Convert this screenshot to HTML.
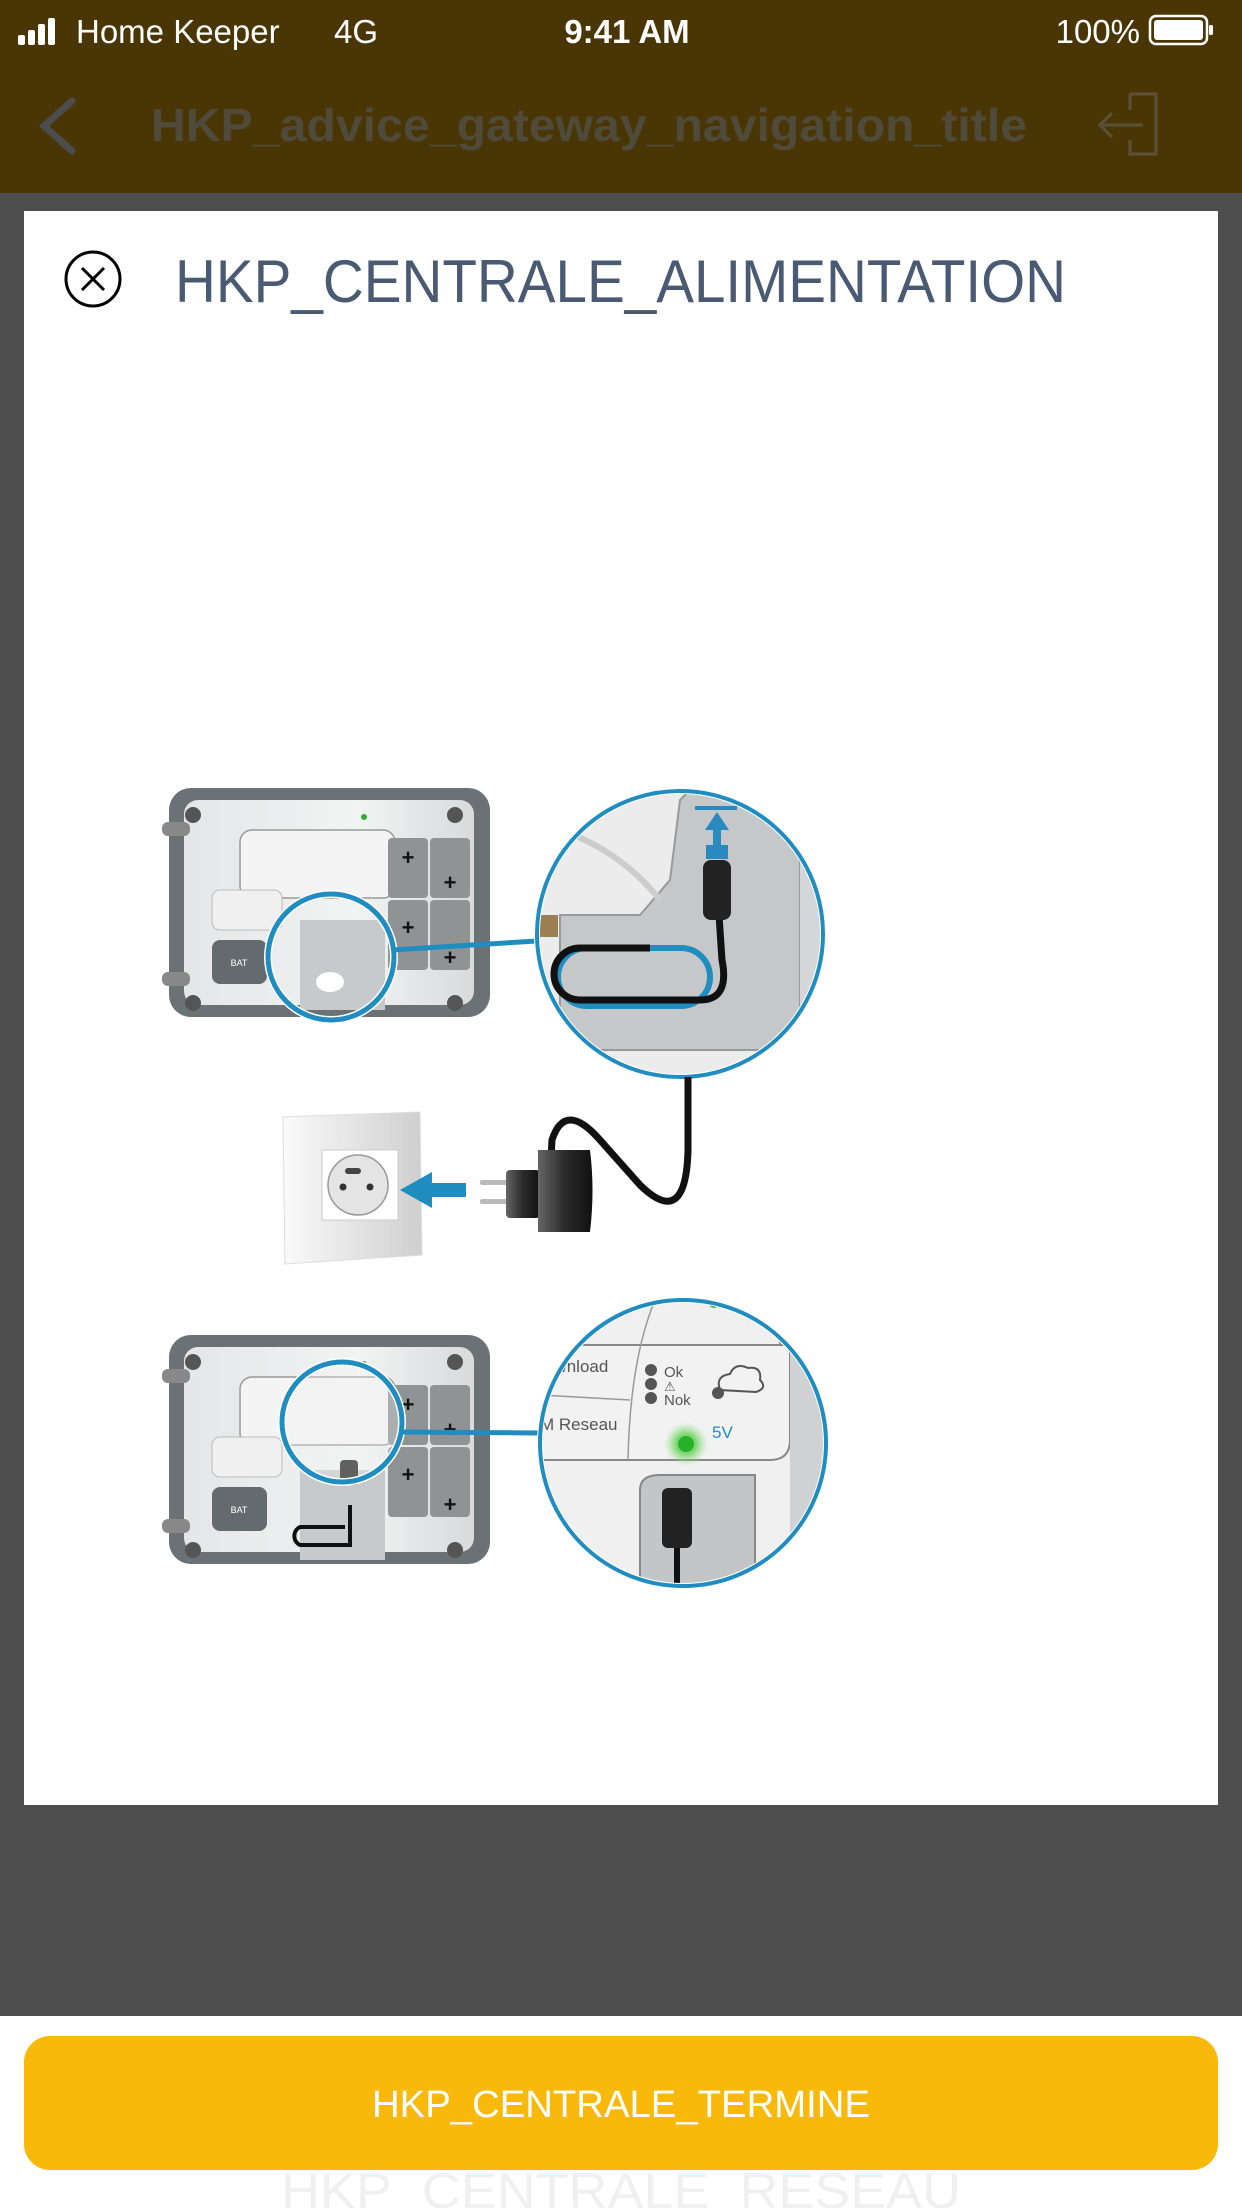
<!DOCTYPE html>
<html><head><meta charset="utf-8"><style>
html,body{margin:0;padding:0;width:1242px;height:2208px;overflow:hidden;background:#fff}
svg{display:block}
</style></head><body>
<svg width="1242" height="2208" viewBox="0 0 1242 2208" xmlns="http://www.w3.org/2000/svg" font-family="Liberation Sans, sans-serif">
<defs>
<linearGradient id="dev" x1="0" x2="1"><stop offset="0" stop-color="#e4e6e7"/><stop offset="0.6" stop-color="#f2f3f3"/><stop offset="1" stop-color="#d8dadb"/></linearGradient>
<linearGradient id="plate" x1="0" x2="1"><stop offset="0" stop-color="#fafafa"/><stop offset="1" stop-color="#cfcfcf"/></linearGradient>
<linearGradient id="chg" x1="0" x2="1"><stop offset="0" stop-color="#666"/><stop offset="0.5" stop-color="#2a2a2a"/><stop offset="1" stop-color="#111"/></linearGradient>
<radialGradient id="glow"><stop offset="0" stop-color="#2fb52f"/><stop offset="0.5" stop-color="#5fcf4f" stop-opacity="0.7"/><stop offset="1" stop-color="#9fe08f" stop-opacity="0"/></radialGradient>
<clipPath id="c1"><circle cx="680" cy="934" r="143"/></clipPath>
<clipPath id="c2"><circle cx="683" cy="1443" r="143"/></clipPath>
</defs>
<!-- top bars -->
<rect x="0" y="0" width="1242" height="193" fill="#4a3604"/>
<g fill="#fff">
<rect x="18" y="35" width="7" height="10" rx="2"/><rect x="28" y="30" width="7" height="15" rx="2"/><rect x="38" y="24" width="7" height="21" rx="2"/><rect x="48" y="18" width="7" height="27" rx="2"/>
</g>
<text x="76" y="43" font-size="33" fill="#fff">Home Keeper</text>
<text x="334" y="43" font-size="33" fill="#fff">4G</text>
<text x="627" y="43" font-size="33" fill="#fff" font-weight="bold" text-anchor="middle">9:41 AM</text>
<text x="1140" y="43" font-size="33" fill="#fff" text-anchor="end">100%</text>
<rect x="1150" y="16" width="57" height="28" rx="6" fill="none" stroke="#fff" stroke-width="2.5"/>
<rect x="1154" y="20" width="49" height="20" rx="3" fill="#fff"/>
<rect x="1209" y="25" width="4" height="10" rx="1.5" fill="#fff"/>
<polyline points="72,101 44,126 72,151" fill="none" stroke="#4d4d4d" stroke-width="7" stroke-linecap="round"/>
<text x="151" y="141" font-size="46" font-weight="bold" fill="#4f4a3a" textLength="876" lengthAdjust="spacingAndGlyphs">HKP_advice_gateway_navigation_title</text>
<g fill="none" stroke="#5a5237" stroke-width="3">
<polyline points="1130,94 1156,94 1156,154 1130,154 1130,140"/><line x1="1130" y1="94" x2="1130" y2="110"/>
<line x1="1100" y1="125" x2="1143" y2="125"/><polyline points="1112,113 1100,125 1112,137"/>
</g>
<!-- gray bg -->
<rect x="0" y="193" width="1242" height="1823" fill="#4d4d4d"/>
<rect x="24" y="211" width="1194" height="1594" fill="#fff"/>
<!-- close -->
<circle cx="93" cy="279" r="27" fill="none" stroke="#000" stroke-width="3"/>
<line x1="82" y1="268" x2="104" y2="290" stroke="#000" stroke-width="3"/><line x1="104" y1="268" x2="82" y2="290" stroke="#000" stroke-width="3"/>
<text x="175" y="302" font-size="60" fill="#4a5a72" textLength="891" lengthAdjust="spacingAndGlyphs">HKP_CENTRALE_ALIMENTATION</text>

<!-- device template top -->
<g id="devtop">
<rect x="169" y="788" width="321" height="229" rx="22" fill="#6a7275"/>
<rect x="184" y="800" width="290" height="205" rx="14" fill="url(#dev)"/>
<rect x="162" y="822" width="28" height="14" rx="6" fill="#888"/>
<rect x="162" y="972" width="28" height="14" rx="6" fill="#888"/>
<circle cx="193" cy="815" r="8" fill="#555"/><circle cx="455" cy="815" r="8" fill="#555"/><circle cx="193" cy="1003" r="8" fill="#555"/><circle cx="455" cy="1003" r="8" fill="#555"/>
<rect x="240" y="830" width="155" height="68" rx="12" fill="#f4f4f4" stroke="#999" stroke-width="1.5"/>
<rect x="388" y="838" width="40" height="60" rx="4" fill="#8f9394"/><rect x="430" y="838" width="40" height="60" rx="4" fill="#8f9394"/>
<rect x="388" y="900" width="40" height="70" rx="4" fill="#8f9394"/><rect x="430" y="900" width="40" height="70" rx="4" fill="#8f9394"/>
<g font-size="22" font-weight="bold" fill="#111" text-anchor="middle"><text x="408" y="865">+</text><text x="450" y="965">+</text><text x="408" y="935">+</text><text x="450" y="890">+</text></g>
<rect x="212" y="890" width="70" height="40" rx="8" fill="#f0f0f0" stroke="#bbb"/>
<rect x="212" y="940" width="55" height="44" rx="8" fill="#636b6e"/>
<text x="239" y="966" font-size="9" fill="#fff" text-anchor="middle">BAT</text>
<circle cx="364" cy="817" r="3" fill="#3a3"/>
</g>
<rect x="300" y="920" width="85" height="90" fill="#c8c9ca"/>
<ellipse cx="330" cy="982" rx="14" ry="10" fill="#fff"/>
<circle cx="331" cy="957" r="63" fill="none" stroke="#fff" stroke-width="8"/>
<circle cx="331" cy="957" r="63" fill="none" stroke="#1f8dc0" stroke-width="5"/>
<line x1="392" y1="950" x2="537" y2="941" stroke="#1f8dc0" stroke-width="5"/>
<!-- big circle top -->
<g clip-path="url(#c1)">
<rect x="530" y="780" width="310" height="310" fill="#ececec"/>
<path d="M690,790 L800,790 L800,1050 L560,1050 L560,915 L640,915 L670,880 L680,800 Z" fill="#c6c7c8" stroke="#999" stroke-width="2"/>
<rect x="800" y="790" width="40" height="300" fill="#d5d6d7"/>
<path d="M560,830 Q620,850 660,900" fill="none" stroke="#ccc" stroke-width="6"/>
<rect x="538" y="915" width="20" height="22" fill="#9a8050"/>
<rect x="558" y="948" width="152" height="58" rx="29" fill="none" stroke="#1f8dc0" stroke-width="6"/>
<path d="M650,948 L580,948 A26,26 0 0 0 580,1000 L700,1000 Q730,1000 722,960 L718,900" fill="none" stroke="#111" stroke-width="7"/>
<rect x="703" y="860" width="28" height="60" rx="8" fill="#222"/>
<rect x="706" y="845" width="22" height="14" fill="#2a8ac0"/>
<polygon points="717,812 705,830 729,830" fill="#2a8ac0"/><rect x="713" y="828" width="8" height="18" fill="#2a8ac0"/>
<rect x="695" y="806" width="42" height="4" fill="#2a8ac0"/>
</g>
<circle cx="680" cy="934" r="143" fill="none" stroke="#fff" stroke-width="6"/>
<circle cx="680" cy="934" r="143" fill="none" stroke="#1f8dc0" stroke-width="4"/>
<!-- cable -->
<path d="M688,1077 L688,1150 Q686,1230 640,1185 L600,1140 Q565,1100 552,1140 L550,1180" fill="none" stroke="#111" stroke-width="7"/>
<!-- socket -->
<path d="M283,1117 L420,1112 L422,1255 L285,1264 Z" fill="url(#plate)" stroke="#ddd"/>
<rect x="322" y="1150" width="76" height="70" fill="#fff" stroke="#ccc"/>
<circle cx="358" cy="1185" r="30" fill="#e4e4e4" stroke="#999" stroke-width="1.5"/>
<circle cx="343" cy="1187" r="3.5" fill="#333"/><circle cx="370" cy="1187" r="3.5" fill="#333"/>
<rect x="345" y="1168" width="16" height="6" rx="3" fill="#444"/>
<polygon points="400,1190 432,1172 432,1183 466,1183 466,1197 432,1197 432,1208" fill="#1f8dc0"/>
<!-- charger -->
<rect x="480" y="1180" width="28" height="5" rx="2" fill="#bbb"/><rect x="480" y="1199" width="28" height="5" rx="2" fill="#bbb"/>
<rect x="506" y="1170" width="34" height="48" rx="4" fill="url(#chg)"/>
<path d="M538,1150 L590,1150 Q595,1190 590,1232 L538,1232 Z" fill="url(#chg)"/>
<!-- bottom device -->
<use href="#devtop" transform="translate(0,547)"/>
<rect x="300" y="1470" width="85" height="90" fill="#c8c9ca"/>
<path d="M350,1505 L350,1545 L300,1545 A10,10 0 0 1 300,1527 L345,1527" fill="none" stroke="#111" stroke-width="4"/>
<rect x="340" y="1460" width="18" height="25" rx="4" fill="#222"/>
<circle cx="342" cy="1422" r="60" fill="#f2f2f2" fill-opacity="0.3" stroke="#fff" stroke-width="8"/>
<circle cx="342" cy="1422" r="60" fill="none" stroke="#1f8dc0" stroke-width="5"/>
<line x1="400" y1="1432" x2="540" y2="1433" stroke="#1f8dc0" stroke-width="5"/>
<g clip-path="url(#c2)">
<rect x="535" y="1295" width="300" height="300" fill="#f0f0f0"/>
<path d="M540,1345 L780,1345 L780,1295" fill="none" stroke="#999" stroke-width="2"/>
<path d="M540,1345 L790,1345 L790,1440 Q790,1460 770,1460 L540,1460" fill="#f2f2f2" stroke="#888" stroke-width="2"/>
<rect x="790" y="1295" width="50" height="300" fill="#d0d1d2"/>
<path d="M655,1300 Q630,1360 628,1460" fill="none" stroke="#999" stroke-width="1.5"/>
<line x1="540" y1="1395" x2="630" y2="1400" stroke="#999" stroke-width="1.5"/>
<text x="545" y="1372" font-size="17" fill="#555">ownload</text>
<text x="540" y="1430" font-size="17" fill="#555">M Reseau</text>
<circle cx="651" cy="1370" r="6" fill="#555"/><circle cx="651" cy="1384" r="6" fill="#555"/><circle cx="651" cy="1398" r="6" fill="#555"/>
<text x="664" y="1377" font-size="15" fill="#555">Ok</text><text x="664" y="1391" font-size="13" fill="#555">⚠</text><text x="664" y="1405" font-size="15" fill="#555">Nok</text>
<path d="M720,1390 q-5,-14 10,-16 q5,-12 18,-6 q14,-2 12,12 q8,8 -4,12 z" fill="none" stroke="#555" stroke-width="2"/>
<circle cx="718" cy="1393" r="6" fill="#555"/>
<circle cx="686" cy="1444" r="22" fill="url(#glow)"/><circle cx="686" cy="1444" r="8" fill="#27b02a"/>
<text x="712" y="1438" font-size="17" fill="#1f8dc0">5V</text>
<circle cx="714" cy="1303" r="5" fill="#3a3"/>
<path d="M640,1490 Q640,1475 660,1475 L755,1475 L755,1600 L640,1600 Z" fill="#c4c5c6" stroke="#888" stroke-width="2"/>
<rect x="662" y="1488" width="30" height="60" rx="6" fill="#222"/>
<line x1="677" y1="1548" x2="677" y2="1600" stroke="#111" stroke-width="6"/>
</g>
<circle cx="683" cy="1443" r="143" fill="none" stroke="#fff" stroke-width="6"/>
<circle cx="683" cy="1443" r="143" fill="none" stroke="#1f8dc0" stroke-width="4"/>
<!-- bottom area -->
<rect x="0" y="2016" width="1242" height="192" fill="#fff"/>
<text x="621" y="2208" font-size="50" fill="#f0f0f0" text-anchor="middle" textLength="680" lengthAdjust="spacingAndGlyphs">HKP_CENTRALE_RESEAU</text>
<rect x="24" y="2036" width="1194" height="134" rx="26" fill="#f9b90b"/>
<text x="621" y="2117" font-size="38" fill="#fff" text-anchor="middle" textLength="498" lengthAdjust="spacingAndGlyphs">HKP_CENTRALE_TERMINE</text>
</svg>
</body></html>
